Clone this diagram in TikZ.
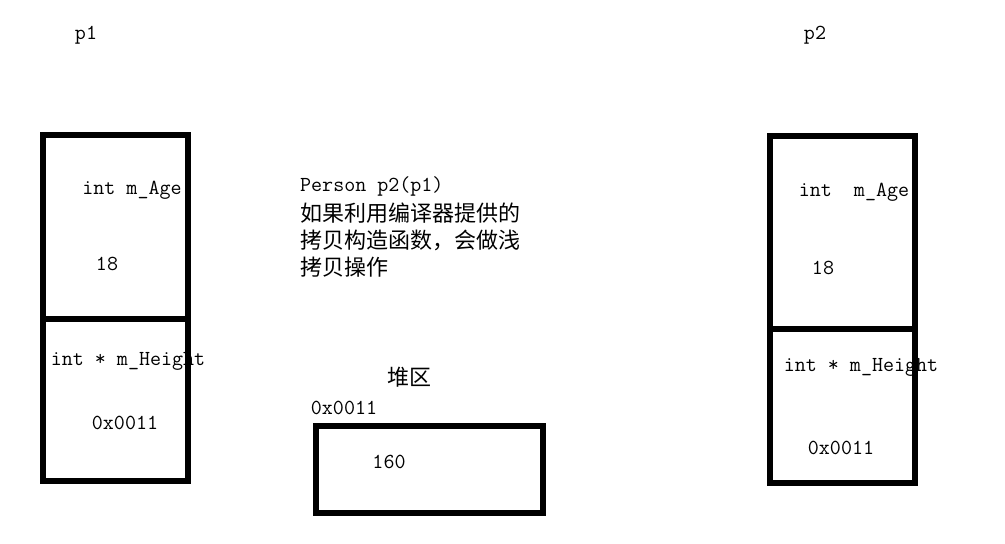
\documentclass[tikz,border=0pt]{standalone}
\usepackage{fontspec}
\newfontfamily\cjk{Noto Sans CJK SC}
\begin{document}
\begin{tikzpicture}[x=1pt,y=-1pt,
  lbl/.style={inner sep=0pt, font=\ttfamily\fontsize{21.4}{23}\selectfont},
  cjklbl/.style={inner sep=0pt, anchor=west, font=\cjk\fontsize{22}{24}\selectfont},
  boxline/.style={line width=6pt, line join=miter}]
\useasboundingbox (0,0) rectangle (1005,544);
% titles
\node[lbl] (t1) at (86,35) {p1};
\node[lbl] (t2) at (815,35) {p2};
% p1 texts
\node[lbl] (a1) at (132,190) {int m\_Age};
\node[lbl] (v1) at (107,264) {18};
\node[lbl] (h1) at (128,361) {int * m\_Height};
\node[lbl] (x1) at (125,423) {0x0011};
% p2 texts
\node[lbl] (a2) at (854,192) {int~~m\_Age};
\node[lbl] (v2) at (823,268) {18};
\node[lbl] (h2) at (861,367) {int * m\_Height};
\node[lbl] (x2) at (841,448) {0x0011};
% middle text
\node[lbl, anchor=west] (c0) at (300,186) {Person p2(p1)};
\node[cjklbl] (c1) at (300,213) {如果利用编译器提供的};
\node[cjklbl] (c2) at (300,240) {拷贝构造函数，会做浅};
\node[cjklbl] (c3) at (300,267) {拷贝操作};
% heap
\node[cjklbl, anchor=center] (heap) at (409,377) {堆区};
\node[lbl] (addr) at (344,408) {0x0011};
\node[lbl] (val) at (389,462) {160};
% boxes
\draw[boxline] (43,135) rectangle (188,481);
\draw[boxline] (43,319) -- (188,319);
\draw[boxline] (770,136) rectangle (915,483);
\draw[boxline] (770,329) -- (915,329);
\draw[boxline] (315.5,425.5) rectangle (543,513);
\end{tikzpicture}
\end{document}
